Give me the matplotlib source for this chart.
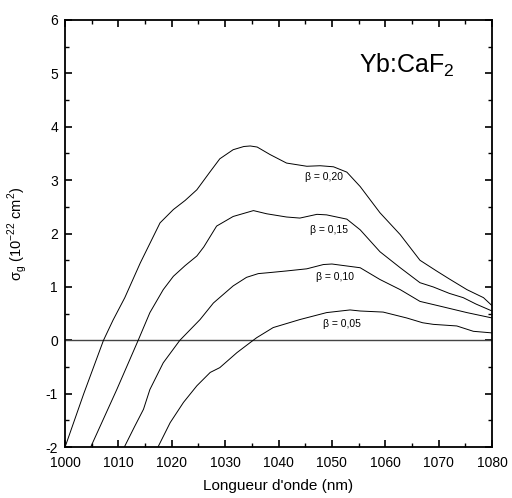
import matplotlib
matplotlib.use("Agg")
import matplotlib.pyplot as plt
from matplotlib.ticker import MultipleLocator

plt.rcParams['font.family'] = ['Liberation Sans', 'DejaVu Sans']
plt.rcParams['axes.unicode_minus'] = False

# gain cross-section curves
x_020 = [1000, 1003.5, 1007.2, 1009, 1011.2, 1014.1, 1017.8, 1020.3, 1022.5, 1024.7,
         1027.2, 1029, 1031.5, 1033.5, 1034.7, 1036, 1038.4, 1041.5, 1045.3, 1047.8,
         1050.3, 1052.8, 1055.3, 1059, 1062.8, 1066.5, 1069.6, 1072, 1075.3, 1078.4, 1080]
y_020 = [-2, -1.0, 0, 0.38, 0.80, 1.45, 2.20, 2.45, 2.62, 2.82,
         3.16, 3.40, 3.57, 3.63, 3.64, 3.62, 3.48, 3.32, 3.26, 3.27,
         3.25, 3.15, 2.88, 2.39, 1.98, 1.50, 1.30, 1.15, 0.95, 0.80, 0.65]

x_015 = [1004.8, 1009.7, 1013.7, 1015.9, 1018.4, 1020.3, 1022.5, 1024.7, 1026, 1028.4,
         1031.5, 1035.3, 1037.8, 1041.5, 1044, 1047.2, 1049, 1052.8, 1055.3, 1059,
         1062.8, 1066.5, 1069, 1072, 1074.6, 1077, 1080]
y_015 = [-2, -0.92, 0, 0.52, 0.95, 1.20, 1.40, 1.58, 1.75, 2.14,
         2.32, 2.43, 2.37, 2.31, 2.29, 2.36, 2.35, 2.27, 2.07, 1.66,
         1.36, 1.08, 1.0, 0.88, 0.80, 0.68, 0.55]

x_010 = [1011.1, 1013, 1014.7, 1015.9, 1018.4, 1021.5, 1025.3, 1027.8, 1031.5, 1034,
         1036.2, 1038.4, 1041.5, 1045.3, 1048.4, 1050, 1051.5, 1055.3, 1059, 1062.8,
         1066.5, 1070.3, 1075.3, 1080]
y_010 = [-2, -1.62, -1.29, -0.92, -0.42, 0, 0.39, 0.70, 1.02, 1.18,
         1.25, 1.27, 1.30, 1.34, 1.42, 1.43, 1.41, 1.36, 1.14, 0.95,
         0.73, 0.64, 0.52, 0.42]

x_005 = [1017.4, 1019.7, 1022.2, 1024.7, 1027.2, 1029, 1032.2, 1034.7, 1035.9, 1039,
         1044, 1049, 1053.4, 1055.3, 1059.6, 1064, 1067, 1069, 1073.4, 1076.5, 1080]
y_005 = [-2, -1.54, -1.16, -0.85, -0.60, -0.51, -0.23, -0.04, 0.05, 0.24,
         0.39, 0.52, 0.57, 0.55, 0.53, 0.42, 0.33, 0.30, 0.27, 0.17, 0.14]

labels = ['β = 0,20', 'β = 0,15', 'β = 0,10', 'β = 0,05']
label_x = [1048.5, 1049.4, 1050.6, 1051.9]
label_y = [3.05, 2.07, 1.18, 0.30]

fig = plt.figure(figsize=(5.12, 4.98), dpi=100)
ax = fig.add_axes([0.127, 0.102, 0.834, 0.858])

ax.axhline(0, color='#444444', lw=1.0)
for xs, ys in [(x_020, y_020), (x_015, y_015), (x_010, y_010), (x_005, y_005)]:
    ax.plot(xs, ys, color='black', lw=0.7)

for lab, lx, ly in zip(labels, label_x, label_y):
    ax.text(lx, ly, lab, fontsize=7.5, ha='center', va='center')

ax.text(1055, 5.15, r'Yb:CaF$_\mathregular{2}$', fontsize=18, ha='left', va='center')

ax.set_xlim(1000, 1080)
ax.set_ylim(-2, 6)
ax.xaxis.set_major_locator(MultipleLocator(10))
ax.xaxis.set_minor_locator(MultipleLocator(5))
ax.yaxis.set_major_locator(MultipleLocator(1))
ax.yaxis.set_minor_locator(MultipleLocator(0.5))
ax.tick_params(which='both', direction='in', top=True, right=True, labelsize=10)
ax.tick_params(which='major', length=5, width=1.2)
ax.tick_params(which='minor', length=3, width=1)
ax.tick_params(axis='x', which='major', pad=6)
ax.tick_params(axis='y', which='major', pad=5)
for s in ax.spines.values():
    s.set_linewidth(1.3)

ax.set_xlabel("Longueur d'onde (nm)", fontsize=11, labelpad=7)
ax.set_ylabel(r'σ$_\mathregular{g}$ (10$^\mathregular{-22}$ cm$^\mathregular{2}$)', fontsize=10.5, labelpad=12)

fig.savefig('out.png', dpi=100)
